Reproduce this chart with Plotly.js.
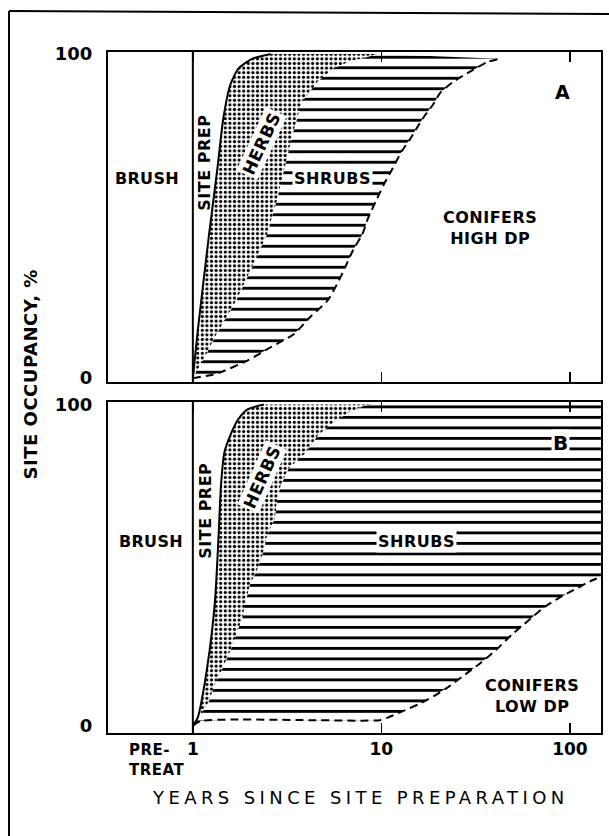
<!DOCTYPE html>
<html><head><meta charset="utf-8">
<script src="https://cdn.plot.ly/plotly-3.0.1.min.js"></script>
<style>html,body{margin:0;padding:0;background:#fff}</style>
</head><body><div id="chart" style="width:609px;height:836px"></div>
<script>
// ---- Panel A: conifers, high DP ----
const aPrepYears  = [1, 1.058, 1.22, 1.35, 1.45, 1.58, 1.74, 2.06, 2.59];
const aPrepOcc    = [0, 13.8, 44.5, 64.7, 80, 90.5, 95.4, 98.5, 100];
const aHerbYears  = [1, 1.16, 1.34, 1.70, 2.06, 2.48, 2.79, 3.07, 3.38, 3.80, 4.59, 5.56, 6.72, 8.52, 9.6];
const aHerbOcc    = [0, 6.5, 13.7, 23.9, 34.1, 44.4, 54.6, 64.8, 75, 85.3, 91.4, 95.5, 97.5, 99.1, 100];
const aShrubYears = [1, 1.34, 1.96, 2.60, 3.46, 4.18, 5.18, 5.82, 6.42, 7.05, 7.93, 8.52, 9.35, 10.3, 11.5, 12.8, 14.3, 15.6, 17.0, 19.0, 20.5, 24.0, 28.5, 36.4, 42];
const aShrubOcc   = [0, 1.4, 5.5, 9.6, 13.7, 18.8, 23.9, 29.0, 34.1, 39.3, 44.4, 49.5, 54.6, 59.7, 64.8, 69.9, 74.0, 77.6, 81.0, 84.8, 88.0, 91.4, 94.0, 97.5, 98.5];

// ---- Panel B: conifers, low DP ----
const bPrepYears  = [1, 1.06, 1.19, 1.31, 1.37, 1.41, 1.47, 1.58, 1.74, 1.95, 2.38];
const bPrepOcc    = [0, 2.5, 18, 38.7, 59.4, 74.9, 85.1, 90.4, 95.4, 98.5, 100];
const bHerbYears  = [1, 1.11, 1.22, 1.31, 1.44, 1.58, 1.70, 1.83, 1.91, 2.01, 2.21, 2.37, 2.48, 2.73, 2.79, 2.93, 3.22, 3.99, 4.59, 5.56, 6.72, 8.1, 9];
const bHerbOcc    = [0, 3.6, 7.7, 12.9, 18.0, 23.2, 28.4, 33.5, 38.7, 43.9, 49.0, 54.2, 59.3, 64.5, 69.7, 74.8, 80.0, 85.1, 90.3, 94.4, 97.5, 99.6, 100];
const bShrubYears = [1, 1.1, 1.62, 4.18, 9.81, 10.8, 13.0, 15.7, 19.0, 23.0, 27.8, 33.6, 40.7, 49.2, 59.4, 71.8, 86.8, 105, 127, 146];
const bShrubOcc   = [0, 1.5, 2.0, 1.8, 1.8, 2.6, 4.6, 6.7, 9.3, 12.4, 16, 19.6, 23.7, 28.4, 32.5, 36.6, 39.7, 42.3, 44.9, 46.4];

// ---- axis labels ----
const xTickVals = [1, 10, 100];
const xTickText = ['1', '10', '100'];
const yTickVals = [0, 100];
const yTickText = ['0', '100'];

const rev = a => a.slice().reverse();
const dots  = {shape: '.', fgcolor: 'black', bgcolor: 'white', size: 4.6, solidity: 0.38};
const hatch = {shape: '-', fgcolor: 'black', bgcolor: 'white', size: 10.5, solidity: 0.27};

function region(x, y, pat, xa, ya) {
  return {x, y, xaxis: xa, yaxis: ya, type: 'scatter', mode: 'lines', fill: 'toself',
          fillcolor: 'white', fillpattern: pat, line: {width: 0}, hoverinfo: 'skip'};
}
function curve(x, y, dash, xa, ya) {
  return {x, y, xaxis: xa, yaxis: ya, type: 'scatter', mode: 'lines',
          line: {color: 'black', width: 2, dash: dash, shape: 'spline', smoothing: 0.6}, hoverinfo: 'skip'};
}

const traces = [
  region(aPrepYears.concat(rev(aHerbYears)), aPrepOcc.concat(rev(aHerbOcc)), dots, 'x', 'y'),
  region(aHerbYears.concat(rev(aShrubYears)), aHerbOcc.concat(rev(aShrubOcc)), hatch, 'x', 'y'),
  curve(aPrepYears, aPrepOcc, 'solid', 'x', 'y'),
  curve(aShrubYears, aShrubOcc, '8px,5px', 'x', 'y'),
  region(bPrepYears.concat(rev(bHerbYears)), bPrepOcc.concat(rev(bHerbOcc)), dots, 'x2', 'y2'),
  region(bHerbYears.concat([bShrubYears[bShrubYears.length - 1]], rev(bShrubYears)),
         bHerbOcc.concat([100], rev(bShrubOcc)), hatch, 'x2', 'y2'),
  curve(bPrepYears, bPrepOcc, 'solid', 'x2', 'y2'),
  curve(bShrubYears, bShrubOcc, '8px,5px', 'x2', 'y2')
];

const FONT = 'DejaVu Sans';
const baseX = {type: 'log', range: [-0.45, 2.165], tickvals: xTickVals, ticktext: xTickText,
  ticks: 'inside', ticklen: 10, tickwidth: 1.5, tickcolor: 'black',
  showline: true, linewidth: 2, linecolor: 'black', mirror: 'ticks',
  showgrid: false, zeroline: false, tickfont: {family: FONT, size: 17, color: 'black', weight: 'bold'}};
const baseY = {tickvals: yTickVals, ticktext: yTickText, ticks: '',
  showline: true, linewidth: 2, linecolor: 'black', mirror: true,
  showgrid: false, zeroline: false, tickfont: {family: FONT, size: 18, color: 'black', weight: 'bold'},
  ticklabelstandoff: 10};

const sp = (t, ls) => t.split('<br>').map(s => '<span style="letter-spacing:' + ls + 'px">' + s + '</span>').join('<br>');

function lab(text, ls, xref, yref, x, y, size, angle, bg, weight) {
  return {text: sp(text, ls), xref, yref, x, y, xanchor: 'center', yanchor: 'middle',
          showarrow: false, textangle: angle || 0,
          font: {family: FONT, size, color: 'black', weight: weight || 'bold'},
          bgcolor: bg || 'rgba(0,0,0,0)', borderpad: 1};
}

const annotations = [
  // panel A
  lab('BRUSH', 0.3, 'x domain', 'y domain', 0.080, 0.618, 16),
  lab('SITE PREP', 0.5, 'x domain', 'y domain', 0.195, 0.665, 16, -90),
  lab('HERBS', 0.5, 'x domain', 'y domain', 0.312, 0.724, 17, -65, 'white'),
  lab('SHRUBS', 0.5, 'x domain', 'y domain', 0.455, 0.617, 16, 0, 'white'),
  lab('CONIFERS<br>HIGH DP', 0.5, 'x domain', 'y domain', 0.775, 0.468, 16),
  lab('A', 0, 'x domain', 'y domain', 0.921, 0.879, 19),
  // panel B
  lab('BRUSH', 0.3, 'x2 domain', 'y2 domain', 0.087, 0.577, 16),
  lab('SITE PREP', 0.5, 'x2 domain', 'y2 domain', 0.199, 0.671, 16, -90),
  lab('HERBS', 0.5, 'x2 domain', 'y2 domain', 0.313, 0.772, 17, -66, 'white'),
  lab('SHRUBS', 0.5, 'x2 domain', 'y2 domain', 0.625, 0.577, 16, 0, 'white'),
  lab('B', 0, 'x2 domain', 'y2 domain', 0.917, 0.876, 20, 0, 'white'),
  lab('CONIFERS<br>LOW DP', 0.5, 'x2 domain', 'y2 domain', 0.860, 0.112, 16),
  // axis titles
  lab('SITE OCCUPANCY, %', 0.5, 'paper', 'paper', -0.157, 0.526, 18, -90),
  lab('YEARS SINCE SITE PREPARATION', 4.4, 'paper', 'paper', 0.513, -0.0954, 18, 0, null, 'normal'),
  Object.assign(lab('PRE-<br>TREAT', 0.5, 'paper', 'paper', 0.0385, -0.0396, 15), {xanchor: 'left', align: 'left'})
];

const shapes = [
  {type: 'line', xref: 'x', yref: 'y domain', x0: 1, x1: 1, y0: 0, y1: 1, line: {color: 'black', width: 2}},
  {type: 'line', xref: 'x2', yref: 'y2 domain', x0: 1, x1: 1, y0: 0, y1: 1, line: {color: 'black', width: 2}},
  // outer frame of the figure
  {type: 'line', xref: 'paper', yref: 'paper', x0: -0.2008, x1: -0.2008, y0: -0.16, y1: 1.0602, line: {color: 'black', width: 2}},
  {type: 'line', xref: 'paper', yref: 'paper', x0: -0.2008, x1: 1.03, y0: 1.0602, y1: 1.0558, line: {color: 'black', width: 2}}
];

const layout = {
  width: 609, height: 836,
  margin: {l: 108, r: 8, t: 52, b: 103},
  paper_bgcolor: 'white', plot_bgcolor: 'white', showlegend: false,
  font: {family: FONT, color: 'black'},
  xaxis: Object.assign({}, baseX, {domain: [0, 1], anchor: 'y', showticklabels: false}),
  yaxis: Object.assign({}, baseY, {domain: [0.5154, 1], anchor: 'x', range: [-1.2, 100.6]}),
  xaxis2: Object.assign({}, baseX, {domain: [0, 1], anchor: 'y2', showticklabels: true}),
  yaxis2: Object.assign({}, baseY, {domain: [0, 0.4866], anchor: 'x2', range: [-2.2, 100.9]}),
  annotations, shapes
};

Plotly.newPlot('chart', traces, layout, {displayModeBar: false, staticPlot: true});
</script></body></html>
